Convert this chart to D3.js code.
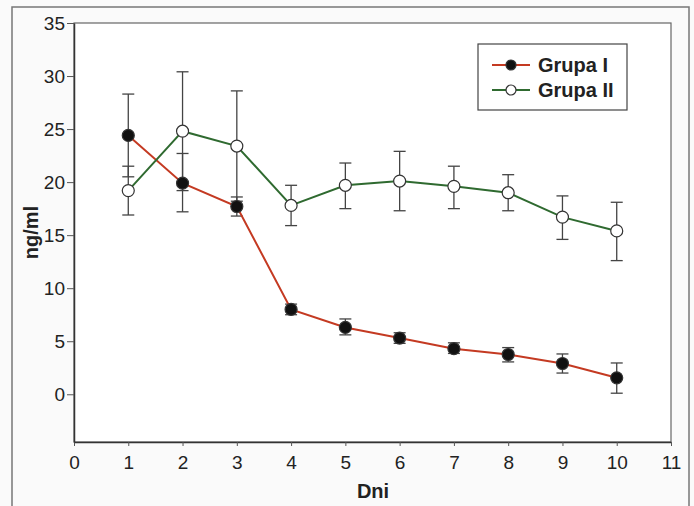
<!DOCTYPE html>
<html>
<head>
<meta charset="utf-8">
<script src="https://cdn.jsdelivr.net/npm/d3@7"></script>
<style>
  body { margin: 0; background: #fff; }
  svg text { font-family: Arial, "Liberation Sans", sans-serif; fill: #222; }
</style>
</head>
<body>
<div id="chart"></div>
<script>
const days = [1, 2, 3, 4, 5, 6, 7, 8, 9, 10];

// Grupa I: mean, lower, upper
const g1Mean = [24.4, 19.9, 17.7, 8.0, 6.3, 5.3, 4.3, 3.75, 2.9, 1.55];
const g1Low  = [20.5, 17.2, 16.8, 7.5, 5.6, 4.8, 3.85, 3.05, 2.0, 0.1];
const g1High = [28.3, 22.7, 18.6, 8.5, 7.1, 5.8, 4.85, 4.4, 3.8, 2.95];

// Grupa II
const g2Mean = [19.2, 24.8, 23.4, 17.8, 19.7, 20.1, 19.6, 19.0, 16.7, 15.4];
const g2Low  = [16.9, 19.2, 18.2, 15.9, 17.5, 17.3, 17.5, 17.3, 14.6, 12.6];
const g2High = [21.5, 30.4, 28.6, 19.7, 21.8, 22.9, 21.5, 20.7, 18.7, 18.1];

const xTicks = [0, 1, 2, 3, 4, 5, 6, 7, 8, 9, 10, 11];
const yTicks = [0, 5, 10, 15, 20, 25, 30, 35];

const width = 694;
const height = 506;
const margin = { top: 23, right: 23, bottom: 64, left: 74 };

const svg = d3.select("#chart")
  .append("svg")
  .attr("width", width)
  .attr("height", height);

// scanned page frame
svg.append("rect")
  .attr("x", 0).attr("y", 0)
  .attr("width", width).attr("height", height)
  .attr("fill", "#fafafa");
svg.append("path")
  .attr("d", `M12,${height} L12,7 L689,7 L689,${height}`)
  .attr("fill", "none")
  .attr("stroke", "#777")
  .attr("stroke-width", 1.5);

const x = d3.scaleLinear().domain([0, 11]).range([margin.left, width - margin.right]);
const y = d3.scaleLinear().domain([-4.5, 35]).range([height - margin.bottom, margin.top]);

// plot area
svg.append("rect")
  .attr("x", x(0)).attr("y", y(35))
  .attr("width", x(11) - x(0)).attr("height", y(-4.5) - y(35))
  .attr("fill", "#fff")
  .attr("stroke", "#666")
  .attr("stroke-width", 1.2);

const xAxis = svg.append("g")
  .attr("transform", `translate(0,${y(-4.5)})`)
  .call(d3.axisBottom(x).tickValues(xTicks).tickSize(4).tickSizeOuter(0).tickPadding(10));
const yAxis = svg.append("g")
  .attr("transform", `translate(${x(0)},0)`)
  .call(d3.axisLeft(y).tickValues(yTicks).tickSize(7).tickSizeOuter(0).tickPadding(2));

[xAxis, yAxis].forEach(a => {
  a.select(".domain").attr("stroke", "#333").attr("stroke-width", 1.5);
  a.selectAll(".tick line").attr("stroke", "#555");
  a.selectAll(".tick text")
    .attr("font-size", 19)
    .attr("fill", "#222");
});
yAxis.selectAll(".tick text").attr("dy", "0.35em");

svg.append("text")
  .attr("transform", `translate(38,${(y(35) + y(-4.5)) / 2 + 0}) rotate(-90)`)
  .attr("text-anchor", "middle")
  .attr("font-size", 20)
  .attr("font-weight", "bold")
  .text("ng/ml");

svg.append("text")
  .attr("x", 373).attr("y", 498)
  .attr("text-anchor", "middle")
  .attr("font-size", 20)
  .attr("font-weight", "bold")
  .text("Dni");

const series = [
  { name: "Grupa I", mean: g1Mean, low: g1Low, high: g1High, line: "#c43a22", fill: "#111" },
  { name: "Grupa II", mean: g2Mean, low: g2Low, high: g2High, line: "#2f6a30", fill: "#fff" }
];

const line = d3.line().x(d => x(d[0])).y(d => y(d[1]));

// error bars
series.forEach(s => {
  const g = svg.append("g").attr("stroke", "#444").attr("stroke-width", 1.3);
  days.forEach((d, i) => {
    g.append("line")
      .attr("x1", x(d)).attr("x2", x(d))
      .attr("y1", y(s.low[i])).attr("y2", y(s.high[i]));
    [s.low[i], s.high[i]].forEach(v => {
      g.append("line")
        .attr("x1", x(d) - 6).attr("x2", x(d) + 6)
        .attr("y1", y(v)).attr("y2", y(v));
    });
  });
});

series.forEach(s => {
  svg.append("path")
    .datum(days.map((d, i) => [d, s.mean[i]]))
    .attr("fill", "none")
    .attr("stroke", s.line)
    .attr("stroke-width", 2)
    .attr("d", line);
  svg.append("g")
    .selectAll("circle")
    .data(days.map((d, i) => [d, s.mean[i]]))
    .enter()
    .append("circle")
    .attr("cx", d => x(d[0]))
    .attr("cy", d => y(d[1]))
    .attr("r", 6)
    .attr("fill", s.fill)
    .attr("stroke", "#333")
    .attr("stroke-width", 1.2);
});

// legend
const legend = svg.append("g").attr("transform", "translate(478,44)");
legend.append("rect")
  .attr("width", 149).attr("height", 66)
  .attr("fill", "#fff")
  .attr("stroke", "#444")
  .attr("stroke-width", 1.2);
series.forEach((s, i) => {
  const ly = 21 + i * 25;
  legend.append("line")
    .attr("x1", 14).attr("x2", 52)
    .attr("y1", ly).attr("y2", ly)
    .attr("stroke", s.line).attr("stroke-width", 2);
  legend.append("circle")
    .attr("cx", 33).attr("cy", ly).attr("r", 5)
    .attr("fill", s.fill).attr("stroke", "#333").attr("stroke-width", 1.2);
  legend.append("text")
    .attr("x", 60).attr("y", ly + 7)
    .attr("font-size", 20)
    .attr("font-weight", "bold")
    .text(s.name);
});
</script>
</body>
</html>
